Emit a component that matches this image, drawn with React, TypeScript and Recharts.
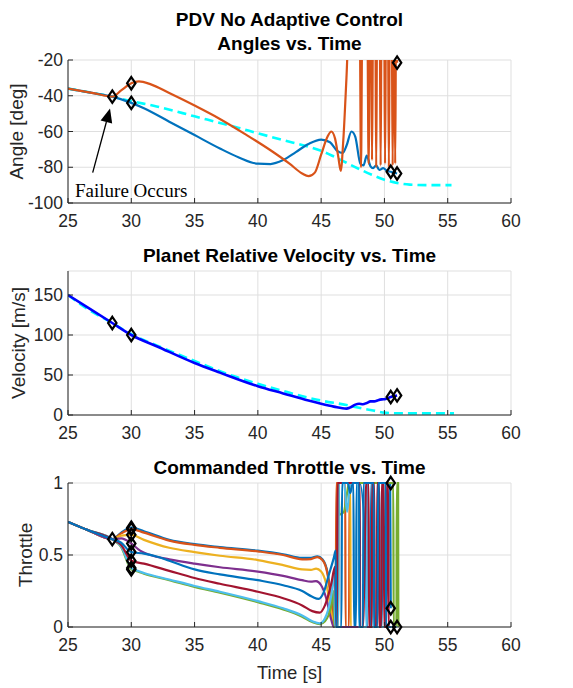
import { ComposedChart, Line, XAxis, YAxis, CartesianGrid, ReferenceLine } from "recharts";

type Pt = [number, number];

const TIME_TICKS = [25, 30, 35, 40, 45, 50, 55, 60];
const ANGLE_TICKS = [-100, -80, -60, -40, -20];
const VEL_TICKS = [0, 50, 100, 150];
const THR_TICKS = [0, 0.5, 1];

// ---- Angles vs. Time ----
const angleRef: Pt[] = [
  [25, -36], [27, -38.5], [28.5, -40.5], [30, -43], [32, -46], [35, -51.5], [38.5, -58], [40, -61],
  [42, -64.8], [44, -68.5], [45, -70.8], [46, -74], [47, -77.5], [48, -81], [49, -84.2], [50, -87],
  [51, -88.8], [52, -89.7], [53.5, -90], [55.3, -90],
];
const angleBlue: Pt[] = [
  [25, -36], [27, -38.5], [28.5, -40.5], [30, -44], [31, -47], [33, -54.5], [35, -62], [37, -69.5],
  [38.5, -74.5], [40, -78], [41, -78.2], [42, -76], [43, -71.5], [44, -67], [45, -64.5], [45.7, -66],
  [46.3, -71], [46.7, -72], [47.0, -68], [47.4, -60], [47.7, -63], [48.1, -78], [48.35, -79],
  [48.6, -73.5], [48.9, -79.5], [49.1, -80.5], [49.35, -79], [49.6, -81.5], [49.9, -80.5],
  [50.2, -82], [50.5, -82.5], [51, -83.5],
];
const angleOrange: Pt[] = [
  [25, -36], [27, -38.5], [28.5, -40.5], [29.2, -37], [30, -33], [30.6, -32], [31.5, -33.5],
  [33, -38.5], [35, -45.5], [37, -53], [39, -61.5], [41, -70.5], [42.5, -78], [43.5, -83.5],
  [44, -85], [44.5, -83], [45, -73], [45.5, -63], [45.8, -60], [46.1, -64], [46.35, -74],
  [46.55, -82], [46.75, -65], [47.0, -30], [47.2, 0],
  [48.05, 0], [48.15, -80], [48.25, 0],
  [48.65, 0], [48.75, -78], [48.85, 0],
  [48.95, 0], [49.02, -76], [49.1, 0],
  [49.28, 0], [49.35, -80], [49.42, 0],
  [49.63, 0], [49.7, -79], [49.77, 0],
  [49.98, 0], [50.05, -78], [50.12, 0],
  [50.28, 0], [50.35, -80], [50.42, 0],
  [50.58, 0], [50.65, -79], [50.72, 0],
  [50.78, 0], [50.85, -78], [50.92, 0], [51.0, -21.5],
];
const angleMarks: Pt[] = [
  [28.5, -40.5], [30, -33], [30, -44], [50.5, -82.5], [51, -83.5], [51, -21.5],
];

// ---- Planet Relative Velocity vs. Time ----
const velRef: Pt[] = [
  [25, 150], [26.5, 133], [28.5, 115], [30, 101], [32, 87], [35, 67.5], [38, 49], [40, 39],
  [42, 30], [45, 18], [47, 12.5], [48, 9], [49, 6], [50, 3], [51, 2.2], [53, 2], [55.5, 2],
];
const velActual: Pt[] = [
  [25, 150], [28.5, 115], [30, 100], [32, 86], [35, 65], [37, 53], [40, 36], [42, 27], [44, 18],
  [45, 14], [46, 10.5], [47, 8], [47.3, 9.5], [47.7, 13], [48, 14], [48.3, 13.5], [48.6, 15],
  [48.9, 17], [49.2, 17], [49.5, 18.5], [49.8, 19.5], [50.1, 20], [50.5, 22.5], [51, 24.5],
];
const velMarks: Pt[] = [[28.5, 115], [30, 100], [50.5, 22.5], [51, 24.5]];

// ---- Commanded Throttle vs. Time ----
const thrStart: Pt[] = [[25, 0.73], [26.5, 0.675], [28.5, 0.61]];
const thrBlue1: Pt[] = [
  ...thrStart, [29.2, 0.655], [30, 0.69], [31, 0.665], [33, 0.605], [35, 0.575], [37, 0.555],
  [40, 0.53], [42, 0.505], [43.5, 0.48], [44.2, 0.48], [44.7, 0.49], [45.1, 0.47], [45.5, 0.38],
  [45.8, 0.2], [46.0, 0.03], [46.1, 0], [46.25, 0], [46.3, 1], [47.55, 1], [47.6, 0], [47.75, 0],
  [47.8, 1], [48.05, 1], [48.55, 0.45], [48.6, 0], [48.9, 0], [48.95, 1], [49.6, 1], [49.63, 0],
  [49.8, 0], [49.85, 1], [50.45, 1], [50.5, 0.13],
];
const thrOrange: Pt[] = [
  ...thrStart, [29.2, 0.65], [30, 0.68], [31, 0.655], [33, 0.6], [35, 0.57], [37, 0.55],
  [40, 0.525], [42, 0.5], [43.5, 0.47], [44.2, 0.472], [44.7, 0.485], [45.1, 0.465], [45.5, 0.37],
  [45.8, 0.18], [46.0, 0.02], [46.1, 0], [46.15, 0], [46.2, 1], [46.9, 1], [46.93, 0], [47.2, 0],
  [47.25, 1], [50.5, 1],
];
const thrYellow: Pt[] = [
  ...thrStart, [29.2, 0.635], [30, 0.64], [31, 0.605], [33, 0.55], [35, 0.52], [37, 0.495],
  [40, 0.465], [42, 0.43], [43.5, 0.4], [44.2, 0.397], [44.6, 0.405], [45.0, 0.385], [45.4, 0.3],
  [45.8, 0.1], [46.0, 0], [46.35, 0], [46.4, 1], [47.3, 1], [47.33, 0], [50.5, 0],
];
const thrPurple: Pt[] = [
  ...thrStart, [29.2, 0.615], [30, 0.58], [30.7, 0.53], [31.5, 0.5], [33, 0.47], [35, 0.44],
  [37, 0.415], [40, 0.385], [42, 0.355], [43.5, 0.325], [44.2, 0.315], [44.6, 0.318], [45.0, 0.29],
  [45.4, 0.2], [45.8, 0.05], [46.0, 0], [50.5, 0],
];
const thrBlue2: Pt[] = [
  ...thrStart, [29.2, 0.585], [30, 0.52], [31, 0.51], [32, 0.49], [33, 0.46], [35, 0.4],
  [37, 0.365], [40, 0.325], [42, 0.29], [43.5, 0.25], [44.3, 0.21], [44.8, 0.195], [45.2, 0.24],
  [45.6, 0.36], [46.0, 0.48], [46.15, 0.53], [46.2, 0], [46.6, 0], [46.65, 1], [47.1, 1],
  [47.3, 0.93], [47.5, 1], [48.0, 1], [48.03, 0], [48.3, 0], [48.35, 1], [49.15, 1], [49.18, 0],
  [49.45, 0], [49.5, 1], [50.1, 1], [50.13, 0], [50.5, 0],
];
const thrRed: Pt[] = [
  ...thrStart, [29.2, 0.57], [30, 0.46], [31, 0.44], [33, 0.39], [35, 0.34], [37, 0.3],
  [40, 0.245], [42, 0.2], [43.5, 0.15], [44.3, 0.11], [44.9, 0.1], [45.3, 0.15], [45.8, 0.3],
  [46.1, 0.42], [46.2, 0], [46.25, 0], [46.3, 1], [48.05, 1], [48.08, 0], [48.3, 0], [48.5, 0.82],
  [48.55, 1], [48.75, 1], [48.78, 0], [49.0, 0], [49.03, 1], [49.2, 1], [49.23, 0], [49.4, 0],
  [49.43, 1], [49.55, 1], [49.58, 0], [49.75, 0], [49.78, 1], [49.95, 1], [49.98, 0], [50.15, 0],
  [50.18, 1], [50.3, 1], [50.33, 0], [50.5, 0],
];
const thrLightBlue: Pt[] = [
  ...thrStart, [29.2, 0.56], [30, 0.41], [30.5, 0.39], [31, 0.375], [33, 0.33], [35, 0.285],
  [37, 0.245], [40, 0.18], [42, 0.13], [43.5, 0.08], [44.3, 0.04], [44.9, 0.025], [45.3, 0.06],
  [45.8, 0.22], [46.05, 0.38], [46.1, 0], [46.35, 0], [46.4, 1], [46.8, 1], [47.05, 0.8],
  [47.3, 1], [47.95, 1], [47.98, 0], [48.6, 0], [48.63, 1], [49.05, 1], [49.08, 0], [51, 0],
];
const thrGreen: Pt[] = [
  ...thrStart, [29.2, 0.555], [30, 0.4], [30.5, 0.385], [31, 0.37], [33, 0.325], [35, 0.278],
  [37, 0.238], [40, 0.172], [42, 0.122], [43.5, 0.072], [44.3, 0.035], [44.9, 0.02], [45.3, 0.04],
  [45.8, 0.15], [46.0, 0.25], [46.05, 0], [46.3, 0], [46.35, 1], [46.45, 0.78], [46.8, 0.8],
  [47.0, 0.9], [47.2, 1], [50.7, 1], [50.73, 0], [50.95, 0], [50.98, 1], [51.08, 1], [51.1, 0],
];
const thrMarks: Pt[] = [
  [28.5, 0.61], [30, 0.69], [30, 0.68], [30, 0.64], [30, 0.58], [30, 0.52], [30, 0.46],
  [30, 0.41], [30, 0.4], [50.5, 1], [50.5, 0.13], [50.5, 0], [51, 0],
];

const THR_SERIES: { pts: Pt[]; color: string }[] = [
  { pts: thrBlue1, color: "#0072BD" },
  { pts: thrOrange, color: "#D95319" },
  { pts: thrYellow, color: "#EDB120" },
  { pts: thrPurple, color: "#7E2F8E" },
  { pts: thrGreen, color: "#77AC30" },
  { pts: thrLightBlue, color: "#4DBEEE" },
  { pts: thrRed, color: "#A2142F" },
  { pts: thrBlue2, color: "#0072BD" },
];

const toData = (pts: Pt[]) => pts.map(([t, v]) => ({ t, v }));

const AXIS = "#262626";
const GRID = "#dfdfdf";
const TICK = { fill: AXIS, fontSize: 17.5 };
const FONT = '"Liberation Sans", Arial, Helvetica, sans-serif';

const Diamond = (p: any) => {
  const { cx, cy, key } = p;
  if (cx == null || cy == null) return <g key={key} />;
  return (
    <path
      key={key}
      d={`M${cx},${cy - 6.2} L${cx + 4.2},${cy} L${cx},${cy + 6.2} L${cx - 4.2},${cy} Z`}
      fill="none"
      stroke="#000"
      strokeWidth={2.2}
    />
  );
};

const Arrow = (p: any) => {
  const { x1, y1, x2, y2 } = p;
  const ang = Math.atan2(y2 - y1, x2 - x1);
  const L = 14;
  const W = 6;
  const bx = x2 - L * Math.cos(ang);
  const by = y2 - L * Math.sin(ang);
  const nx = -Math.sin(ang) * W;
  const ny = Math.cos(ang) * W;
  return (
    <g>
      <line x1={x1} y1={y1} x2={bx} y2={by} stroke="#000" strokeWidth={1.3} />
      <polygon points={`${x2},${y2} ${bx + nx},${by + ny} ${bx - nx},${by - ny}`} fill="#000" />
    </g>
  );
};

// grid, bottom/left labelled axes, plus unlabelled top/right axes to close the box
function Axes({ yDomain, yTicks, xHeight, clip }: { yDomain: [number, number]; yTicks: number[]; xHeight: number; clip?: boolean }) {
  return [
    <CartesianGrid key="g" stroke={GRID} strokeWidth={1} />,
    <XAxis
      key="xb"
      dataKey="t"
      type="number"
      domain={[25, 60]}
      ticks={TIME_TICKS}
      interval={0}
      allowDataOverflow
      height={xHeight}
      stroke={AXIS}
      tick={TICK}
      tickSize={-5}
      tickMargin={17}
    />,
    <XAxis
      key="xt"
      xAxisId="top"
      orientation="top"
      dataKey="t"
      type="number"
      domain={[25, 60]}
      ticks={TIME_TICKS}
      interval={0}
      height={0}
      stroke={AXIS}
      tick={false}
      tickSize={-5}
    />,
    <YAxis
      key="yl"
      type="number"
      domain={yDomain}
      ticks={yTicks}
      interval={0}
      allowDataOverflow={!!clip}
      width={50}
      stroke={AXIS}
      tick={TICK}
      tickSize={-5}
      tickMargin={10}
    />,
    <YAxis
      key="yr"
      yAxisId="r"
      orientation="right"
      type="number"
      domain={yDomain}
      ticks={yTicks}
      interval={0}
      width={0}
      stroke={AXIS}
      tick={false}
      tickSize={-5}
    />,
  ];
}

function Marks({ pts }: { pts: Pt[] }) {
  return (
    <Line
      data={toData(pts)}
      dataKey="v"
      xAxisId="top"
      yAxisId="r"
      stroke="none"
      dot={Diamond}
      activeDot={false}
      isAnimationActive={false}
    />
  );
}

export default function App() {
  return (
    <div
      style={{
        position: "absolute",
        left: 0,
        top: 0,
        width: 573,
        height: 688,
        background: "#fff",
        fontFamily: FONT,
        overflow: "hidden",
      }}
    >
      <div style={{ position: "absolute", left: 0, top: 0 }}>
        <ComposedChart width={573} height={240} margin={{ top: 60, right: 62, bottom: 0, left: 18 }}>
          {Axes({ yDomain: [-100, -20], yTicks: ANGLE_TICKS, xHeight: 37, clip: true })}
          <Line data={toData(angleRef)} dataKey="v" type="monotone" stroke="#00ffff" strokeWidth={2.6}
            strokeDasharray="9 5" dot={false} activeDot={false} isAnimationActive={false} />
          <Line data={toData(angleBlue)} dataKey="v" type="monotone" stroke="#0072BD" strokeWidth={2.2}
            dot={false} activeDot={false} isAnimationActive={false} />
          <Line data={toData(angleOrange)} dataKey="v" type="monotone" stroke="#D95319" strokeWidth={2.2}
            dot={false} activeDot={false} isAnimationActive={false} />
          <ReferenceLine segment={[{ x: 26.95, y: -83 }, { x: 28.32, y: -47.1 }]} shape={Arrow} />
          {Marks({ pts: angleMarks })}
        </ComposedChart>
      </div>

      <div style={{ position: "absolute", left: 0, top: 230 }}>
        <ComposedChart width={573} height={220} margin={{ top: 41, right: 62, bottom: 0, left: 18 }}>
          {Axes({ yDomain: [0, 180], yTicks: VEL_TICKS, xHeight: 35 })}
          <Line data={toData(velRef)} dataKey="v" type="monotone" stroke="#00ffff" strokeWidth={2.6}
            strokeDasharray="9 5" dot={false} activeDot={false} isAnimationActive={false} />
          <Line data={toData(velActual)} dataKey="v" type="monotone" stroke="#0000ff" strokeWidth={2.6}
            dot={false} activeDot={false} isAnimationActive={false} />
          {Marks({ pts: velMarks })}
        </ComposedChart>
      </div>

      <div style={{ position: "absolute", left: 0, top: 440 }}>
        <ComposedChart width={573} height={222} margin={{ top: 43, right: 62, bottom: 0, left: 18 }}>
          {Axes({ yDomain: [0, 1], yTicks: THR_TICKS, xHeight: 35 })}
          {THR_SERIES.map((s, i) => (
            <Line key={i} data={toData(s.pts)} dataKey="v" type="monotone" stroke={s.color}
              strokeWidth={2.2} dot={false} activeDot={false} isAnimationActive={false} />
          ))}
          {Marks({ pts: thrMarks })}
        </ComposedChart>
      </div>

      <svg
        width={573}
        height={688}
        style={{ position: "absolute", left: 0, top: 0, pointerEvents: "none" }}
        fontFamily={FONT}
      >
        <text x={289.5} y={25.5} textAnchor="middle" fontSize={19} fontWeight="bold" fill="#000">
          PDV No Adaptive Control
        </text>
        <text x={289.5} y={50} textAnchor="middle" fontSize={19} fontWeight="bold" fill="#000">
          Angles vs. Time
        </text>
        <text x={289.5} y={261.5} textAnchor="middle" fontSize={19} fontWeight="bold" fill="#000">
          Planet Relative Velocity vs. Time
        </text>
        <text x={289.5} y={474} textAnchor="middle" fontSize={19} fontWeight="bold" fill="#000">
          Commanded Throttle vs. Time
        </text>
        <text transform="translate(23,131.5) rotate(-90)" textAnchor="middle" fontSize={19} fill={AXIS}>
          Angle [deg]
        </text>
        <text transform="translate(24.5,343) rotate(-90)" textAnchor="middle" fontSize={19} fill={AXIS}>
          Velocity [m/s]
        </text>
        <text transform="translate(31.5,555) rotate(-90)" textAnchor="middle" fontSize={19} fill={AXIS}>
          Throttle
        </text>
        <text x={289.5} y={679} textAnchor="middle" fontSize={18.5} fill={AXIS}>
          Time [s]
        </text>
        <text x={75} y={197} fontSize={19} fill="#000" fontFamily='"Liberation Serif", "Times New Roman", serif'>
          Failure Occurs
        </text>
      </svg>
    </div>
  );
}
